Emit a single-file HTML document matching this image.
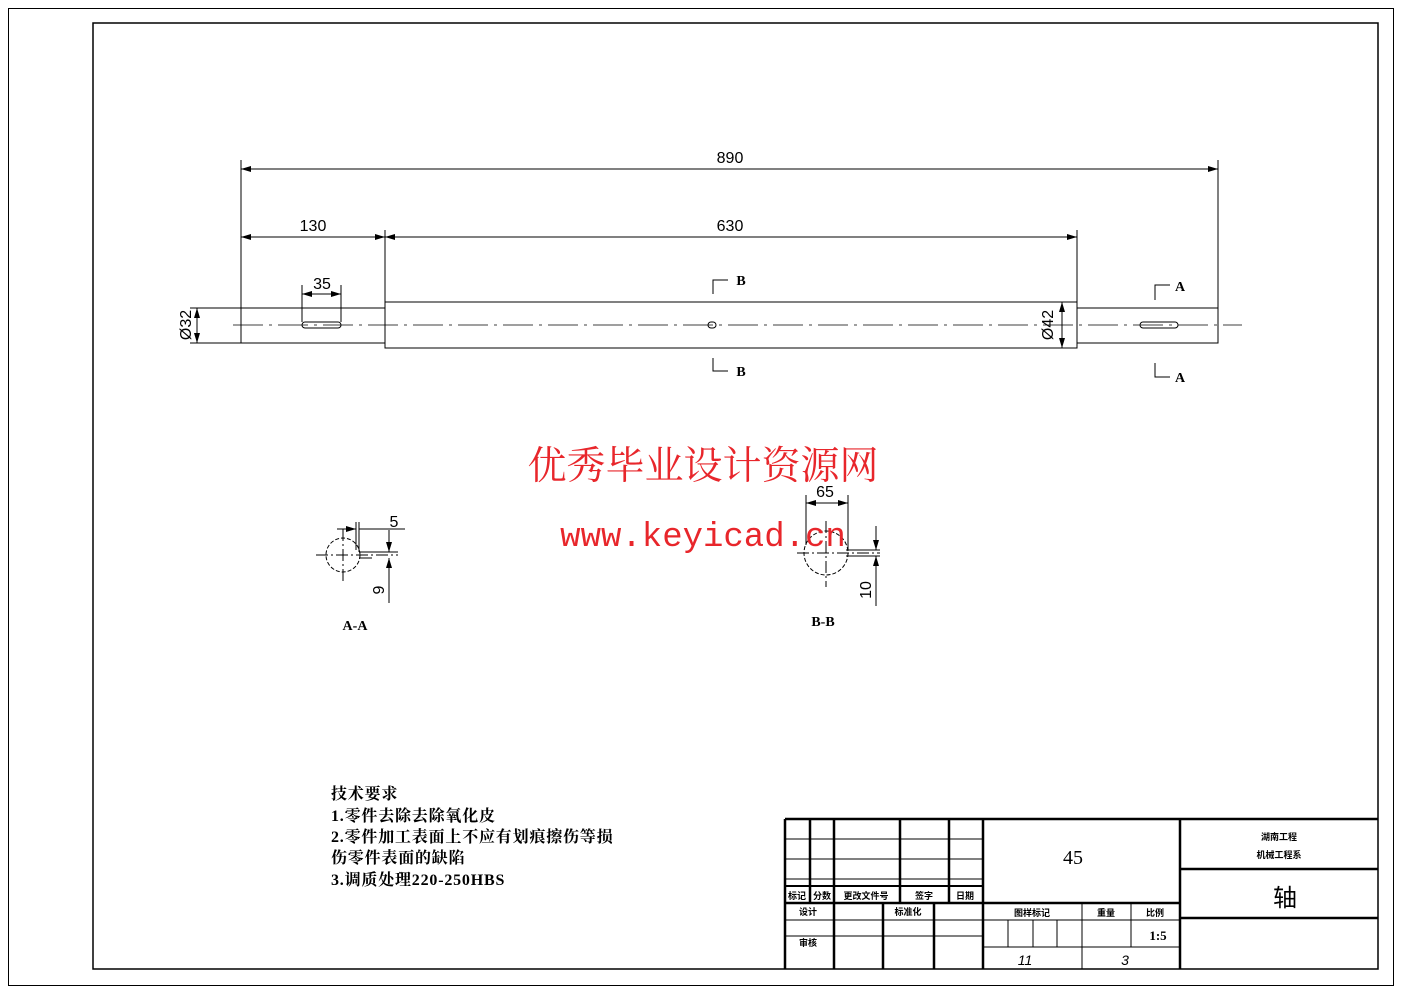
<!DOCTYPE html>
<html><head><meta charset="utf-8"><style>
html,body{margin:0;padding:0;background:#fff}
svg{display:block}
text{font-family:"Liberation Sans","Noto Sans CJK SC",sans-serif;fill:#000}
.s{font-family:"Liberation Serif","Noto Serif CJK SC",serif}
</style></head><body>
<svg width="1403" height="992" viewBox="0 0 1403 992" xmlns="http://www.w3.org/2000/svg">
<defs>
<marker id="a" viewBox="0 0 10 6" refX="10" refY="3" markerWidth="10" markerHeight="6" orient="auto-start-reverse" markerUnits="userSpaceOnUse"><path d="M0,0L10,3L0,6z" fill="#000"/></marker>
</defs>
<g fill="none" stroke="#000" stroke-width="1">
<rect x="8.5" y="8.5" width="1385" height="977"/>
<rect x="93" y="23" width="1285" height="946" stroke-width="1.5"/>
<rect x="241" y="308" width="144" height="35"/>
<rect x="385" y="302" width="692" height="46"/>
<rect x="1077" y="308" width="141" height="35"/>
<line x1="233" y1="325" x2="1242" y2="325" stroke-dasharray="30,6,3,6" stroke-width="0.8"/>
<rect x="302" y="322" width="39" height="6" rx="3"/>
<rect x="1140" y="322" width="38" height="6" rx="3"/>
<rect x="708" y="322" width="8" height="6" rx="3"/>
<line x1="241" y1="160" x2="241" y2="308"/>
<line x1="1218" y1="160" x2="1218" y2="308"/>
<line x1="385" y1="230" x2="385" y2="302"/>
<line x1="1077" y1="230" x2="1077" y2="302"/>
<line x1="302" y1="285" x2="302" y2="322"/>
<line x1="341" y1="285" x2="341" y2="322"/>
<line x1="190" y1="308" x2="241" y2="308"/>
<line x1="190" y1="343" x2="241" y2="343"/>
<line x1="1052" y1="302" x2="1077" y2="302"/>
<line x1="1052" y1="348" x2="1077" y2="348"/>
<line x1="241" y1="169" x2="1218" y2="169" marker-start="url(#a)" marker-end="url(#a)"/>
<line x1="241" y1="237" x2="385" y2="237" marker-start="url(#a)" marker-end="url(#a)"/>
<line x1="385" y1="237" x2="1077" y2="237" marker-start="url(#a)" marker-end="url(#a)"/>
<line x1="302" y1="294" x2="341" y2="294" marker-start="url(#a)" marker-end="url(#a)"/>
<line x1="197" y1="308" x2="197" y2="343" marker-start="url(#a)" marker-end="url(#a)"/>
<line x1="1062" y1="302" x2="1062" y2="348" marker-start="url(#a)" marker-end="url(#a)"/>
<polyline points="728,280 713,280 713,294"/>
<polyline points="713,358 713,371 728,371"/>
<polyline points="1170,285 1155,285 1155,300"/>
<polyline points="1155,363 1155,377 1170,377"/>
<circle cx="343" cy="555" r="17" stroke-dasharray="4,2"/>
<line x1="316" y1="555" x2="398" y2="555" stroke-dasharray="12,3,2,3"/>
<line x1="343" y1="529" x2="343" y2="582" stroke-dasharray="12,3,2,3"/>
<line x1="359" y1="552" x2="398" y2="552"/>
<line x1="359" y1="558" x2="372" y2="558"/>
<line x1="356" y1="522" x2="356" y2="550"/>
<line x1="359" y1="522" x2="359" y2="552"/>
<line x1="337" y1="529" x2="356" y2="529" marker-end="url(#a)"/>
<line x1="359" y1="529" x2="405" y2="529"/>
<line x1="389" y1="530" x2="389" y2="552" marker-end="url(#a)"/>
<line x1="389" y1="603" x2="389" y2="558" marker-end="url(#a)"/>
<circle cx="826" cy="553" r="22" stroke-dasharray="4,2"/>
<line x1="797" y1="553" x2="880" y2="553" stroke-dasharray="12,3,2,3"/>
<line x1="826" y1="521" x2="826" y2="587" stroke-dasharray="12,3,2,3"/>
<line x1="846" y1="550" x2="880" y2="550"/>
<line x1="846" y1="556" x2="880" y2="556"/>
<line x1="806" y1="495" x2="806" y2="545"/>
<line x1="848" y1="495" x2="848" y2="550"/>
<line x1="806" y1="503" x2="848" y2="503" marker-start="url(#a)" marker-end="url(#a)"/>
<line x1="876" y1="526" x2="876" y2="550" marker-end="url(#a)"/>
<line x1="876" y1="606" x2="876" y2="556" marker-end="url(#a)"/>
<g stroke-width="2.5">
<line x1="785" y1="819" x2="1378" y2="819"/>
<line x1="785" y1="819" x2="785" y2="969"/>
<line x1="983" y1="819" x2="983" y2="969"/>
<line x1="1180" y1="819" x2="1180" y2="969"/>
<line x1="785" y1="903" x2="983" y2="903"/>
<line x1="983" y1="903" x2="1180" y2="903"/>
<line x1="1180" y1="869" x2="1378" y2="869"/>
<line x1="1180" y1="918" x2="1378" y2="918"/>
<line x1="810" y1="819" x2="810" y2="903"/>
<line x1="834" y1="819" x2="834" y2="969"/>
<line x1="900" y1="819" x2="900" y2="903"/>
<line x1="949" y1="819" x2="949" y2="903"/>
<line x1="883" y1="903" x2="883" y2="969"/>
<line x1="934" y1="903" x2="934" y2="969"/>
</g>
<line x1="785" y1="839" x2="983" y2="839"/>
<line x1="785" y1="859" x2="983" y2="859"/>
<line x1="785" y1="879" x2="983" y2="879"/>
<line x1="785" y1="886" x2="983" y2="886" stroke-width="2"/>
<line x1="785" y1="920" x2="983" y2="920"/>
<line x1="785" y1="936" x2="983" y2="936"/>
<line x1="983" y1="920" x2="1180" y2="920"/>
<line x1="983" y1="947" x2="1180" y2="947"/>
<line x1="1082" y1="903" x2="1082" y2="969"/>
<line x1="1131" y1="903" x2="1131" y2="947"/>
<line x1="1008" y1="920" x2="1008" y2="947"/>
<line x1="1033" y1="920" x2="1033" y2="947"/>
<line x1="1057" y1="920" x2="1057" y2="947"/>
</g>
<text x="730" y="163" font-size="16" text-anchor="middle">890</text>
<text x="313" y="231" font-size="16" text-anchor="middle">130</text>
<text x="730" y="231" font-size="16" text-anchor="middle">630</text>
<text x="322" y="289" font-size="16" text-anchor="middle">35</text>
<text transform="translate(191,325) rotate(-90)" font-size="16" text-anchor="middle">Ø32</text>
<text transform="translate(1053,325) rotate(-90)" font-size="16" text-anchor="middle">Ø42</text>
<text x="741" y="285" font-size="14" class="s" text-anchor="middle" font-weight="bold">B</text>
<text x="741" y="376" font-size="14" class="s" text-anchor="middle" font-weight="bold">B</text>
<text x="1180" y="291" font-size="14" class="s" text-anchor="middle" font-weight="bold">A</text>
<text x="1180" y="382" font-size="14" class="s" text-anchor="middle" font-weight="bold">A</text>
<text x="394" y="527" font-size="16" text-anchor="middle">5</text>
<text transform="translate(384,590) rotate(-90)" font-size="16" text-anchor="middle">9</text>
<text x="355" y="630" font-size="14" class="s" text-anchor="middle" font-weight="bold">A-A</text>
<text x="825" y="497" font-size="16" text-anchor="middle">65</text>
<text transform="translate(871,590) rotate(-90)" font-size="16" text-anchor="middle">10</text>
<text x="823" y="626" font-size="14" class="s" text-anchor="middle" font-weight="bold">B-B</text>
<text x="703" y="479" font-size="39" text-anchor="middle" class="s" style="fill:#e8262b">优秀毕业设计资源网</text>
<text x="703" y="546" font-size="34" text-anchor="middle" style="fill:#e8262b;font-family:'Liberation Mono',monospace">www.keyicad.cn</text>
<g font-size="16" font-weight="bold" letter-spacing="0.8">
<text x="331" y="799" class="s">技术要求</text>
<text x="331" y="821" class="s">1.零件去除去除氧化皮</text>
<text x="331" y="842" class="s">2.零件加工表面上不应有划痕擦伤等损</text>
<text x="331" y="863" class="s">伤零件表面的缺陷</text>
<text x="331" y="885" class="s">3.调质处理220-250HBS</text>
</g>
<g font-size="9" font-weight="bold" text-anchor="middle">
<text x="797" y="899">标记</text><text x="822" y="899">分数</text><text x="866" y="899">更改文件号</text><text x="924" y="899">签字</text><text x="965" y="899">日期</text>
<text x="808" y="915">设计</text><text x="908" y="915">标准化</text><text x="808" y="946">审核</text>
<text x="1032" y="916">图样标记</text><text x="1106" y="916">重量</text><text x="1155" y="916">比例</text>
<text x="1279" y="840">湖南工程</text><text x="1279" y="858">机械工程系</text>
</g>
<text x="1073" y="864" font-size="20" text-anchor="middle" class="s">45</text>
<text x="1158" y="940" font-size="13" text-anchor="middle" class="s" font-weight="bold">1:5</text>
<text x="1025" y="965" font-size="14" text-anchor="middle" font-style="italic">11</text>
<text x="1125" y="965" font-size="14" text-anchor="middle" font-style="italic">3</text>
<text x="1285" y="906" font-size="24" text-anchor="middle">轴</text>
</svg>
</body></html>
